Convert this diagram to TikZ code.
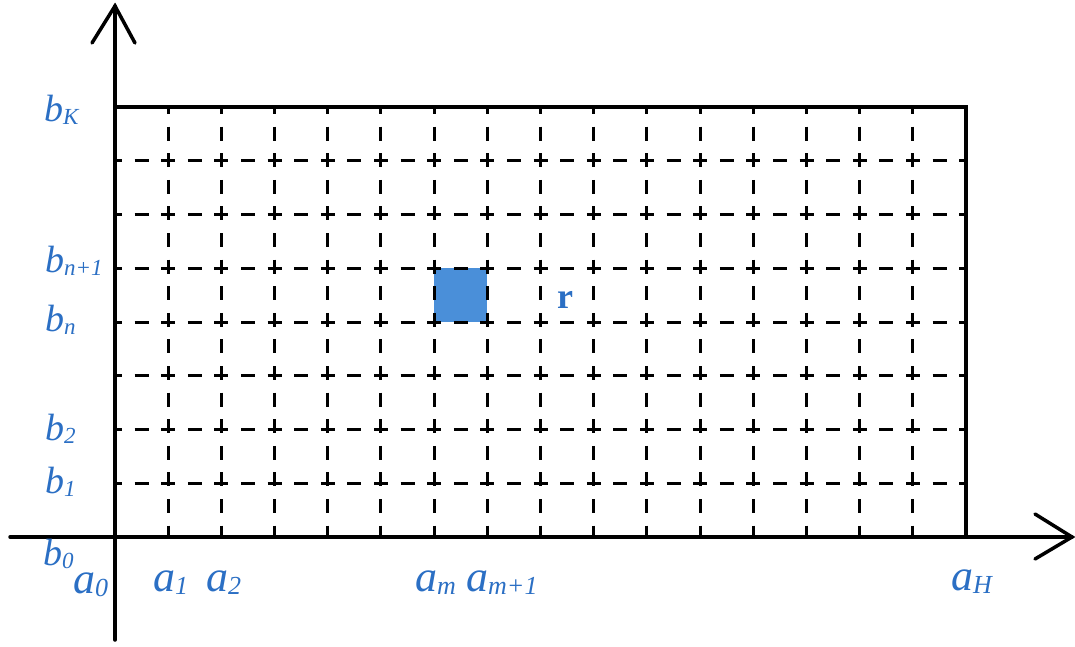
\documentclass[tikz,border=0pt]{standalone}
\usepackage{fontspec}
\setmainfont{Liberation Serif}
\definecolor{labblue}{HTML}{2B6FC4}
\definecolor{cellblue}{HTML}{4A8FD9}
\newcommand\bsz{\fontsize{38}{40}\selectfont}
\newcommand\bsub{\fontsize{23}{25}\selectfont}
\newcommand\asz{\fontsize{44}{46}\selectfont}
\newcommand\asub{\fontsize{26}{28}\selectfont}
\newcommand\blab[1]{\bsz b\raisebox{-3pt}{\bsub #1}}
\newcommand\alab[1]{\asz a\raisebox{-3pt}{\asub #1}}
\tikzset{
  lab/.style={text=labblue, inner sep=0pt, anchor=base west, font=\itshape},
  axisline/.style={line width=3.5pt, line cap=round},
  frameline/.style={line width=3.4pt},
  gridline/.style={line width=3pt, dash pattern=on 14pt off 12.6pt, dash phase=7pt}
}
\begin{document}
\begin{tikzpicture}[x=1pt,y=-1pt]
\useasboundingbox (0,0) rectangle (1075,646);
% cell
\coordinate (c1) at (434,268.25);
\coordinate (c2) at (487.3,322);
\fill[cellblue] (c1) rectangle (c2);
% grid
\foreach \i in {1,...,15}{
  \draw[gridline] ({115+\i*53.1875},107) -- ({115+\i*53.1875},537);
}
\foreach \j in {1,...,7}{
  \draw[gridline] (115,{537-\j*53.75}) -- (966,{537-\j*53.75});
}
% frame
\coordinate (tl) at (115,107);
\coordinate (tr) at (966,107);
\coordinate (br) at (966,537);
\draw[frameline] (tl) -- (tr) -- (br);
% axes
\coordinate (ybot) at (115,640);
\coordinate (ytip) at (115,6);
\coordinate (yl) at (92,43);
\coordinate (yr) at (135,43);
\coordinate (xleft) at (10,537);
\coordinate (xtip) at (1072,537);
\coordinate (xu) at (1035,514);
\coordinate (xd) at (1035,559);
\draw[axisline] (ybot) -- (ytip);
\draw[axisline, line join=miter] (yl) -- (ytip) -- (yr);
\draw[axisline] (xleft) -- (xtip);
\draw[axisline, line join=miter] (xu) -- (xtip) -- (xd);
% labels
\node[lab] (bK) at (44,121) {\blab{K}};
\node[lab] (bn1) at (45,272) {\blab{n+1}};
\node[lab] (bn) at (45,331) {\blab{n}};
\node[lab] (b2) at (45,440) {\blab{2}};
\node[lab] (b1) at (45,493) {\blab{1}};
\node[lab] (b0) at (43,565) {\blab{0}};
\node[lab] (a0) at (73,593) {\alab{0}};
\node[lab] (a1) at (153,591) {\alab{1}};
\node[lab] (a2) at (206,591) {\alab{2}};
\node[lab] (am) at (415,591) {\alab{m}};
\node[lab] (am1) at (466,591) {\alab{m+1}};
\node[lab] (aH) at (951,590) {\alab{H}};
\node[lab, font=\bfseries] (r) at (557,308) {\fontsize{36}{38}\selectfont r};
\end{tikzpicture}
\end{document}
